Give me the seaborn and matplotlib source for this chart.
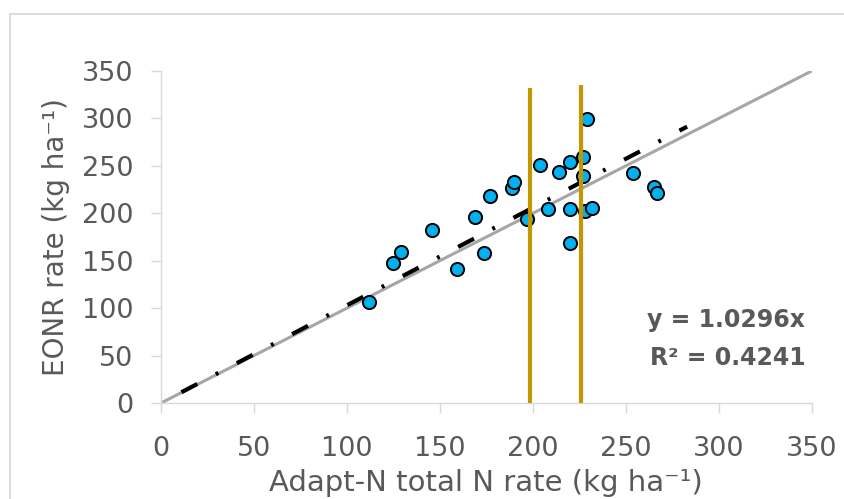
import numpy as np
import pandas as pd
import seaborn as sns
from matplotlib import pyplot as plt
from matplotlib.patches import Rectangle

# Adapt-N total N rate vs EONR (kg/ha)
adapt_n = [112, 125, 129, 146, 159, 169, 174, 177, 189, 190, 197, 204, 208, 214,
           220, 220, 220, 227, 227, 228, 229, 232, 254, 265, 267]
eonr = [106, 148, 159, 182, 141, 196, 158, 218, 227, 233, 194, 251, 205, 243,
        254, 205, 169, 259, 239, 202, 299, 206, 242, 228, 221]

one_to_one = [0, 350]          # 1:1 line
slope = 1.0296                 # trendline through origin
r2 = 0.4241
trend_x = [11, 283]            # extent of the Excel trendline
gold_x = [198.7, 226]          # vertical reference rates
gold_top = [332, 335]

ticks = [0, 50, 100, 150, 200, 250, 300, 350]

sns.set_theme(style='white')
plt.rcParams['font.family'] = ['DejaVu Sans']

text_col = '#595959'
axis_col = '#D9D9D9'

fig = plt.figure(figsize=(8.45, 4.99), dpi=100)
ax = fig.add_axes([161 / 845, 96 / 499, 650.7 / 845, 332 / 499])

# chart area border
fig.patches.append(Rectangle((10 / 845, -0.1), 1.1, (499 - 14) / 499 + 0.1,
                             transform=fig.transFigure, fill=False,
                             edgecolor=axis_col, linewidth=1.3, zorder=0))

df = pd.DataFrame({'adapt_n': adapt_n, 'eonr': eonr})

sns.lineplot(x=one_to_one, y=one_to_one, ax=ax, color='#A6A6A6', linewidth=2.2,
             zorder=1)
trend_y = [slope * v for v in trend_x]
sns.lineplot(x=trend_x, y=trend_y, ax=ax, color='black', linewidth=3,
             dashes=False, zorder=2)
# long dash - dot pattern (units of line width)
ax.lines[-1].set_dashes([4.3, 5, 0.7, 5])

sns.scatterplot(data=df, x='adapt_n', y='eonr', ax=ax, s=90, color='#00B0F0',
                edgecolor='black', linewidth=1.4, zorder=3)

ax.vlines(gold_x, [0, 0], gold_top, color='#C49600', linewidth=3, zorder=4)

ax.text(346.5, 80, f'y = {slope:.4f}x', ha='right', va='baseline',
        fontsize=17, fontweight='bold', color=text_col)
ax.text(346.5, 40, f'R² = {r2:.4f}', ha='right', va='baseline',
        fontsize=17, fontweight='bold', color=text_col)

ax.set_xlim(0, 350)
ax.set_ylim(0, 350)
ax.set_xticks(ticks)
ax.set_yticks(ticks)
ax.tick_params(axis='both', which='major', length=7.5, width=1, color=axis_col,
               labelsize=19.5, labelcolor=text_col, direction='out')
ax.tick_params(axis='x', pad=16)
ax.tick_params(axis='y', pad=12.5)
ax.xaxis.set_ticks_position('bottom')
ax.yaxis.set_ticks_position('left')

for side in ['top', 'right']:
    ax.spines[side].set_visible(False)
for side in ['left', 'bottom']:
    ax.spines[side].set_color(axis_col)
    ax.spines[side].set_linewidth(1)

ax.set_xlabel('Adapt-N total N rate (kg ha⁻¹)', fontsize=21, color=text_col)
ax.set_ylabel('EONR rate (kg ha⁻¹)', fontsize=20, color=text_col)
ax.xaxis.set_label_coords(0.5, -0.199)
ax.yaxis.set_label_coords(-0.140, 0.5)

fig.savefig('out.png', dpi=100)
